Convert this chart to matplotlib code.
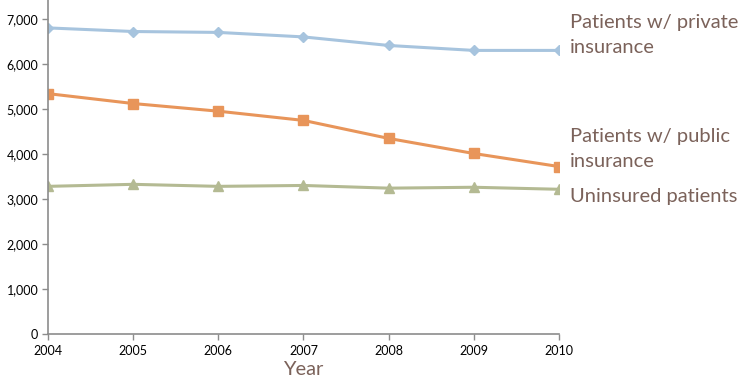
import matplotlib
matplotlib.use("Agg")
import matplotlib.pyplot as plt
from matplotlib.ticker import FuncFormatter

years = [2004, 2005, 2006, 2007, 2008, 2009, 2010]
private = [6800, 6720, 6700, 6600, 6410, 6300, 6300]
public = [5340, 5120, 4950, 4745, 4345, 4010, 3720]
uninsured = [3280, 3325, 3280, 3300, 3240, 3260, 3215]

labels = ["Patients w/ private\ninsurance", "Patients w/ public\ninsurance", "Uninsured patients"]
colors = ["#A7C4DE", "#E8955A", "#B4BA93"]
markers = ["D", "s", "^"]
sizes = [5, 7, 7]
text_color = "#7B625A"
axis_color = "#8C8C8C"

plt.rcParams['font.family'] = ['Lato', 'DejaVu Sans']

fig = plt.figure(figsize=(7.41, 3.85), dpi=100)
ax = fig.add_axes([48 / 741, 1 - 334 / 385, (559 - 48) / 741, 334 / 385])

for series, c, m, s in zip([private, public, uninsured], colors, markers, sizes):
    ax.plot(years, series, color=c, marker=m, markersize=s, linewidth=2.2)

ax.set_xlim(2004, 2010)
ax.set_ylim(0, 7420)
ax.set_yticks(range(0, 7001, 1000))
ax.set_xticks(years)
ax.yaxis.set_major_formatter(FuncFormatter(lambda v, p: f"{int(v):,}"))

for side in ["top", "right"]:
    ax.spines[side].set_visible(False)
for side in ["left", "bottom"]:
    ax.spines[side].set_color(axis_color)
    ax.spines[side].set_linewidth(1.2)
ax.tick_params(axis='both', colors=axis_color, labelcolor="black", labelsize=9, length=4, width=1)
ax.tick_params(axis='y', direction='out', pad=3)
ax.tick_params(axis='x', pad=4)

# labels at the right of the lines
lbl = dict(color=text_color, fontsize=14.5, va='center', ha='left', linespacing=1.55)
ax.text(2010.13, 6644, labels[0], **lbl)
ax.text(2010.13, 4111, labels[1], **lbl)
ax.text(2010.13, 3044, labels[2], **lbl)

ax.set_xlabel("Year", color=text_color, fontsize=14.5, labelpad=3)

fig.savefig("out.png", dpi=100)
